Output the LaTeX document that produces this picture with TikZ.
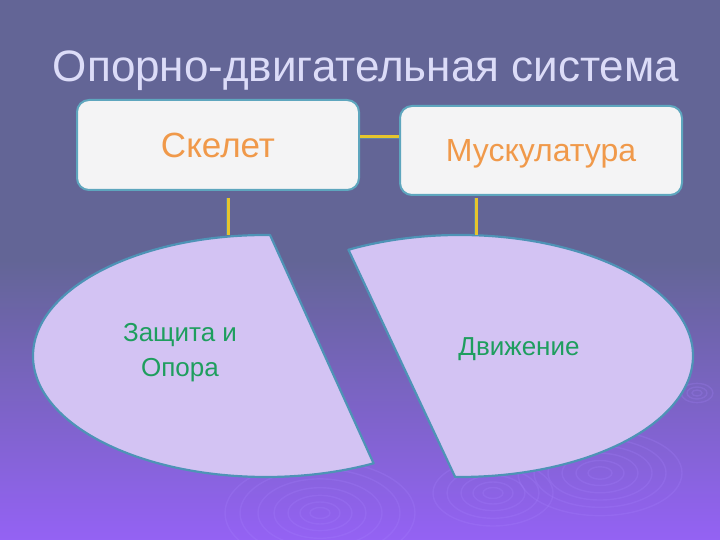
\documentclass[tikz,border=0pt]{standalone}
\usepackage{fontspec}
\setmainfont{Liberation Sans}
\usetikzlibrary{calc}
\definecolor{bgtop}{HTML}{636596}
\definecolor{bgbot}{HTML}{9462F4}
\definecolor{titlec}{HTML}{DCDCF8}
\definecolor{boxfill}{HTML}{F4F4F5}
\definecolor{boxedge}{HTML}{5EA6BE}
\definecolor{orangetxt}{HTML}{F0994A}
\definecolor{greentxt}{HTML}{1E9E5E}
\definecolor{lavfill}{HTML}{D3C3F3}
\definecolor{lavedge}{HTML}{4E93B6}
\definecolor{linkyel}{HTML}{E6C52C}
\definecolor{linkedge}{HTML}{5C84A6}
\definecolor{ripple}{HTML}{A884FF}
\tikzset{
  titlet/.style={text=titlec, font=\fontsize{44}{50}\selectfont, inner sep=0pt},
  topbox/.style={draw=boxedge, line width=2pt, fill=boxfill, rounded corners=12pt,
    minimum width=282pt, minimum height=90pt, inner sep=0pt, text depth=0pt, text=orangetxt},
  piece/.style={draw=lavedge, line width=2.2pt, fill=lavfill, line join=round},
  link/.style={draw=linkedge, double=linkyel, double distance=3pt, line width=0.6pt},
  inner/.style={text=greentxt, font=\fontsize{26}{35}\selectfont, align=center, inner sep=0pt},
  rip/.style={draw=ripple, line width=1.4pt, opacity=0.22}
}
\begin{document}
\begin{tikzpicture}[x=1pt,y=1pt]
\useasboundingbox (0,0) rectangle (720,540);
\fill[bgtop] (0,279) rectangle (720,540);
\shade[top color=bgtop, bottom color=bgbot] (0,0) rectangle (720,280);
% ripples
\foreach \r in {10,20,32,46,62,80,95} {
  \draw[rip] (320,27) ellipse[x radius=\r pt, y radius=0.55*\r pt];
}
\foreach \r in {10,20,32,46,60} {
  \draw[rip] (493,47) ellipse[x radius=\r pt, y radius=0.55*\r pt];
}
\foreach \r in {12,24,38,52,66,82} {
  \draw[rip] (600,67) ellipse[x radius=\r pt, y radius=0.52*\r pt];
}
\foreach \r in {5,10,16} {
  \draw[rip] (697,147) ellipse[x radius=\r pt, y radius=0.6*\r pt];
}
% title
\node[titlet, anchor=base] (title) at (366,458) {Опорно-двигательная система};
% boxes
\node[topbox, font=\fontsize{35}{40}\selectfont] (skel) at (218,395) {Скелет};
\node[topbox, font=\fontsize{32}{37}\selectfont, minimum height=89pt] (musk) at (541,389.5) {Мускулатура};
% split ellipse pieces
\draw[piece] ($(266,184)+(89:233pt and 121pt)$)
  arc[start angle=89, end angle=297.5, x radius=233pt, y radius=121pt] -- cycle;
\draw[piece] ($(460,184)+(118.6:233pt and 121pt)$)
  arc[start angle=118.6, end angle=-91.2, x radius=233pt, y radius=121pt] -- cycle;
% connectors
\coordinate (ltop) at (228,305);
\coordinate (rtop) at (476,305);
\coordinate (hy) at (380,403.3);
\draw[link] (skel.east |- hy) -- (musk.west |- hy);
\draw[link, shorten <=7pt] (skel.south -| ltop) -- (ltop);
\draw[link, shorten <=2pt] (musk.south -| rtop) -- (rtop);
% texts in pieces
\node[inner] (prot) at (180,187.5) {Защита и\\Опора};
\node[inner, anchor=base] (move) at (519,184) {Движение};
\end{tikzpicture}
\end{document}
